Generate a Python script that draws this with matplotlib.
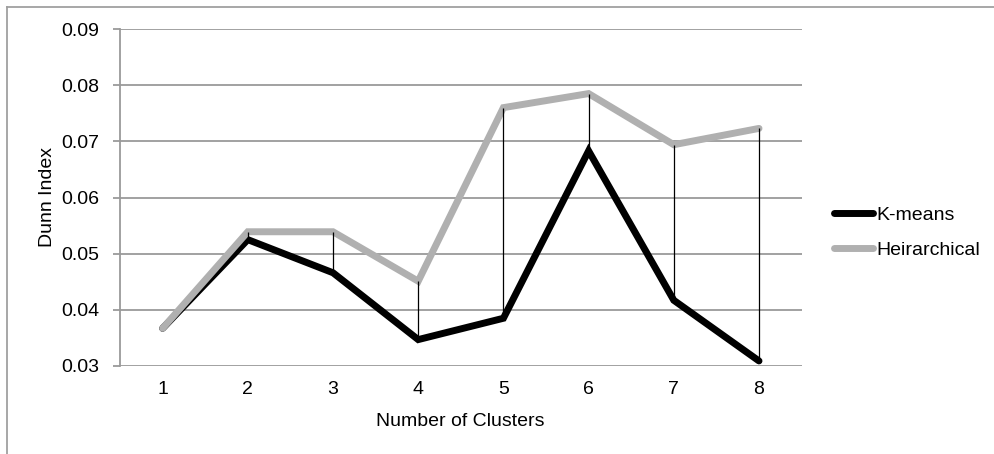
import matplotlib
matplotlib.use("Agg")
import matplotlib.pyplot as plt
from matplotlib.lines import Line2D

plt.rcParams['font.family'] = ['Liberation Sans', 'DejaVu Sans']

clusters = [1, 2, 3, 4, 5, 6, 7, 8]
kmeans = [0.0367, 0.0525, 0.0466, 0.0347, 0.0385, 0.0683, 0.0417, 0.0309]
heirarchical = [0.0367, 0.0539, 0.0539, 0.0451, 0.0760, 0.0785, 0.0694, 0.0723]
yticks = [0.03, 0.04, 0.05, 0.06, 0.07, 0.08, 0.09]

fig = plt.figure(figsize=(9.94, 4.54), dpi=100)
ax = fig.add_axes([120/994, 1-366/454, (801.6-120)/994, (366-29)/454])

grid_c = '#9a9a9a'
for y in yticks:
    ax.axhline(y, color=grid_c, lw=1.3, zorder=0)

ax.plot(clusters, kmeans, color='#000000', lw=5, zorder=2,
        solid_capstyle='round', solid_joinstyle='miter', label='K-means')
ax.plot(clusters, heirarchical, color='#b0b0b0', lw=5, zorder=3,
        solid_capstyle='round', solid_joinstyle='miter', label='Heirarchical')
ax.vlines(clusters, kmeans, heirarchical, color='black', lw=0.9, zorder=4)

ax.set_xlim(0.5, 8.5)
ax.set_ylim(0.03, 0.09)
ax.set_yticks(yticks)
ax.set_yticklabels([f"{v:.2f}" for v in yticks])
ax.set_xticks(clusters)
ax.set_xticklabels([str(c) for c in clusters])

for s in ['top', 'right', 'bottom']:
    ax.spines[s].set_visible(False)
ax.spines['left'].set_color(grid_c)
ax.spines['left'].set_linewidth(1.3)
ax.tick_params(axis='y', length=5, width=1.3, color=grid_c, labelsize=14, pad=10)
ax.tick_params(axis='x', length=0, labelsize=14, pad=11)

fig.text(460/994, 1-422/454, 'Number of Clusters', ha='center', va='center', fontsize=14)
fig.text(47/994, 1-197/454, 'Dunn Index', ha='center', va='center', rotation=90, fontsize=14)

handles = [Line2D([], [], color='black', lw=5, solid_capstyle='round'),
           Line2D([], [], color='#b0b0b0', lw=5, solid_capstyle='round')]
leg = fig.legend(handles, ['K-means', 'Heirarchical'], loc='upper left',
                 bbox_to_anchor=(834/994, 1-206/454), frameon=False, fontsize=14,
                 handlelength=2.0, handletextpad=0.2, labelspacing=0.9,
                 borderpad=0, borderaxespad=0)

# outer chart border (top and left)
fig.add_artist(Line2D([7/994, 1.0], [1-7/454, 1-7/454], transform=fig.transFigure,
                      color='#a0a0a0', lw=1.3))
fig.add_artist(Line2D([7/994, 7/994], [0, 1-7/454], transform=fig.transFigure,
                      color='#a0a0a0', lw=1.3))

fig.savefig('out.png', dpi=100)
